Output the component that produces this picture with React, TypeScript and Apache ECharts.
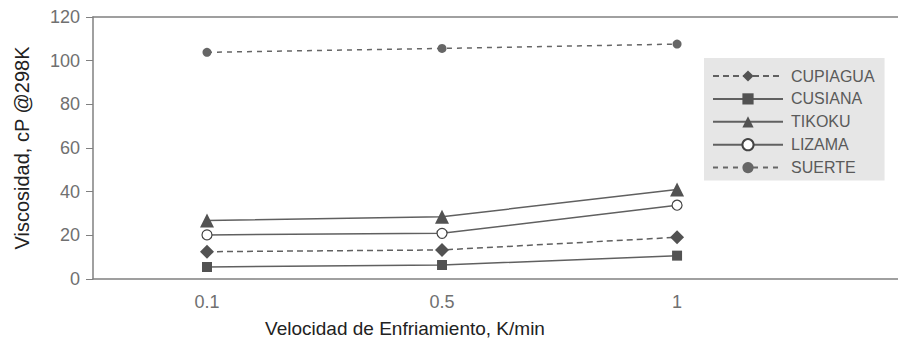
import React, { useEffect, useRef } from "react";
import * as echarts from "echarts";

const categories = ["0.1", "0.5", "1"];
const cupiagua = [12.5, 13.3, 19.1];
const cusiana = [5.5, 6.4, 10.7];
const tikoku = [26.8, 28.5, 41];
const lizama = [20.2, 20.9, 33.8];
const suerte = [103.8, 105.6, 107.6];
const yTicks = [0, 20, 40, 60, 80, 100, 120];

const FONT = "'Liberation Sans', Arial, sans-serif";

const toPoints = (vals: number[]) => vals.map((v, i) => [i, v]);

export default function App() {
  const ref = useRef<HTMLDivElement>(null);
  useEffect(() => {
    if (!ref.current) return;
    const chart = echarts.init(ref.current, null, { renderer: "svg" });
    const lineColor = "#606060";
    const markColor = "#525252";
    chart.setOption({
      animation: false,
      backgroundColor: "#ffffff",
      textStyle: { fontFamily: FONT },
      grid: { left: 93, right: 0, top: 17, bottom: 64 },
      xAxis: [
        {
          type: "value",
          min: -0.485,
          max: 2.94,
          axisLine: { show: true, onZero: false, lineStyle: { color: "#808080", width: 1.5 } },
          axisTick: { show: false },
          splitLine: { show: false },
          axisLabel: {
            customValues: categories.map((_, i) => i),
            formatter: (v: number) => categories[Math.round(v)] ?? "",
            color: "#707070",
            fontSize: 18,
            fontFamily: FONT,
            margin: 14,
          },
        },
        {
          type: "value",
          position: "top",
          min: -0.485,
          max: 2.94,
          axisLine: { show: true, onZero: false, lineStyle: { color: "#808080", width: 1.5 } },
          axisTick: { show: false },
          axisLabel: { show: false },
          splitLine: { show: false },
        },
      ],
      yAxis: {
        type: "value",
        min: yTicks[0],
        max: yTicks[yTicks.length - 1],
        interval: 20,
        name: "Viscosidad, cP @298K",
        nameLocation: "middle",
        nameGap: 61,
        nameTextStyle: { fontSize: 20, color: "#222", fontFamily: FONT },
        axisLine: { show: true, onZero: false, lineStyle: { color: "#808080", width: 1.5 } },
        axisTick: { show: true, inside: false, length: 7, lineStyle: { color: "#808080" } },
        splitLine: { show: false },
        axisLabel: {
          color: "#707070",
          fontSize: 18,
          fontFamily: FONT,
          margin: 13,
        },
      },
      legend: {
        orient: "vertical",
        left: 704,
        top: 58,
        backgroundColor: "#e6e6e6",
        padding: [10, 10, 5, 8],
        itemWidth: 70,
        itemHeight: 14,
        itemGap: 6.9,
        textStyle: { color: "#5a5a5a", fontSize: 16, fontFamily: FONT, padding: [0, 0, 0, 3] },
        data: ["CUPIAGUA", "CUSIANA", "TIKOKU", "LIZAMA", "SUERTE"],
      },
      series: [
        {
          name: "CUPIAGUA",
          type: "line",
          data: toPoints(cupiagua),
          symbol: "diamond",
          symbolSize: 14,
          itemStyle: { color: markColor },
          lineStyle: { color: lineColor, width: 1.5, type: [6, 4] },
        },
        {
          name: "CUSIANA",
          type: "line",
          data: toPoints(cusiana),
          symbol: "rect",
          symbolSize: 10,
          itemStyle: { color: markColor },
          lineStyle: { color: lineColor, width: 1.5 },
        },
        {
          name: "TIKOKU",
          type: "line",
          data: toPoints(tikoku),
          symbol: "triangle",
          symbolSize: 14,
          itemStyle: { color: markColor },
          lineStyle: { color: lineColor, width: 1.5 },
        },
        {
          name: "LIZAMA",
          type: "line",
          data: toPoints(lizama),
          symbol: "circle",
          symbolSize: 10,
          itemStyle: { color: "#ffffff", borderColor: "#444", borderWidth: 1.2 },
          lineStyle: { color: lineColor, width: 1.5 },
        },
        {
          name: "SUERTE",
          type: "line",
          data: toPoints(suerte),
          symbol: "circle",
          symbolSize: 9,
          itemStyle: { color: "#666" },
          lineStyle: { color: "#666", width: 1.5, type: [5, 5] },
        },
      ],
      graphic: [
        {
          type: "text",
          x: 405,
          y: 328,
          style: {
            text: "Velocidad de Enfriamiento, K/min",
            fontSize: 19,
            fontFamily: FONT,
            fill: "#222",
            align: "center",
            verticalAlign: "middle",
          },
        },
      ],
    });
    return () => chart.dispose();
  }, []);
  return (
    <div
      ref={ref}
      style={{ position: "absolute", left: 0, top: 0, width: 898, height: 343 }}
    />
  );
}
